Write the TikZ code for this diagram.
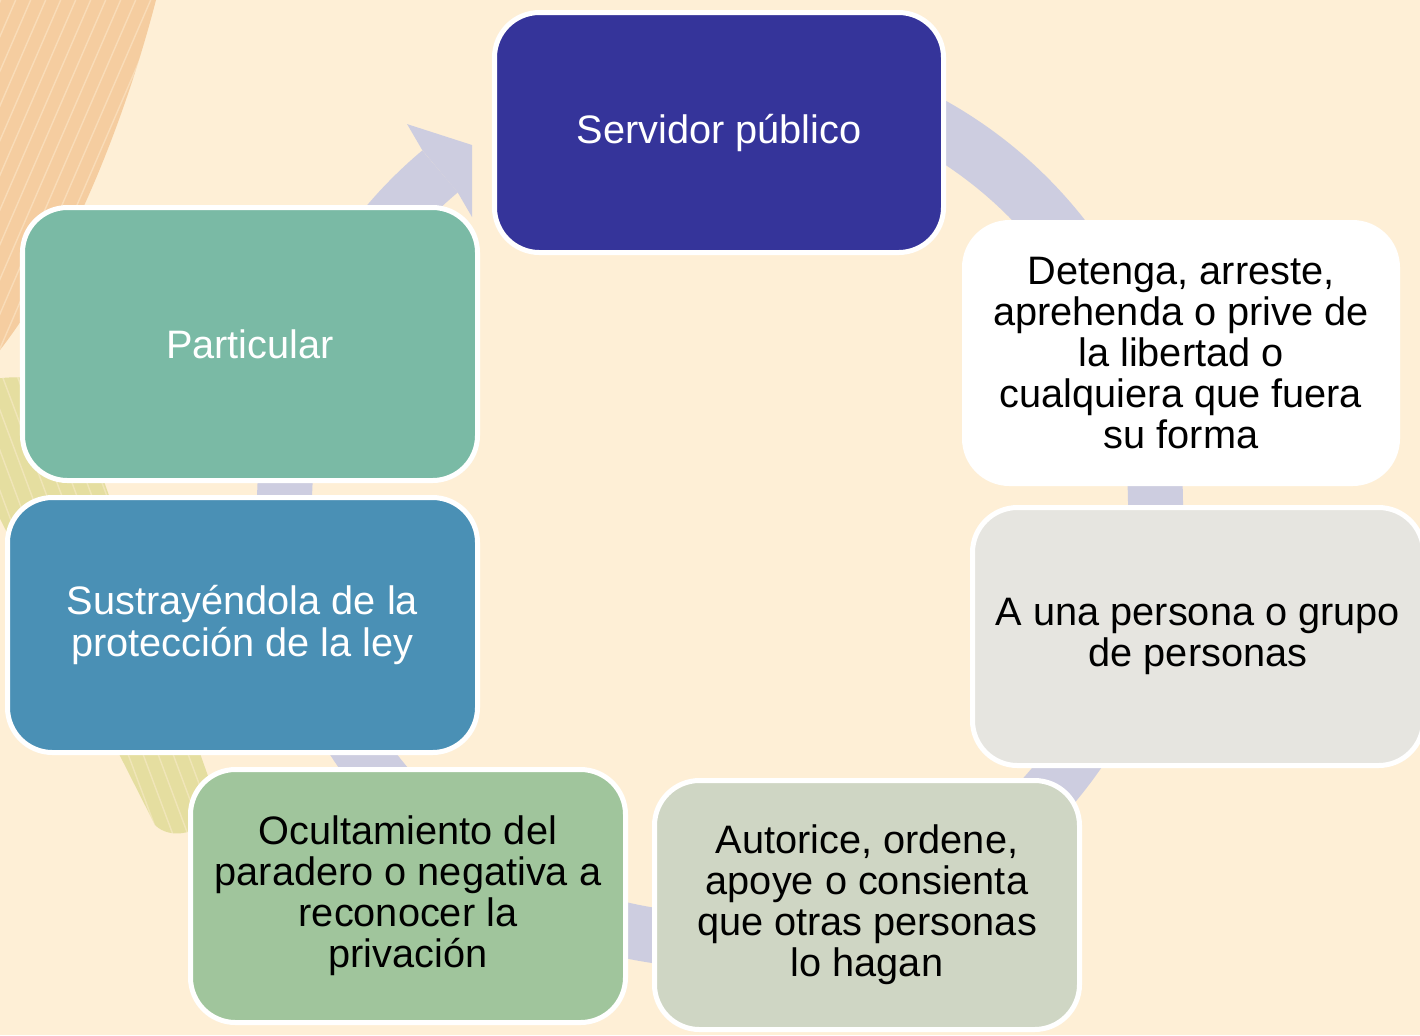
\documentclass[tikz,border=0pt]{standalone}
\usepackage{fontspec}
\setmainfont{Liberation Sans}
\usetikzlibrary{calc}

\definecolor{bgcream}{HTML}{FEEFD6}
\definecolor{ringlav}{HTML}{CDCDE0}
\definecolor{brushorange}{HTML}{F5CDA0}
\definecolor{brushyellow}{HTML}{E5DEA0}
\definecolor{servblue}{HTML}{35349A}
\definecolor{partgreen}{HTML}{7ABAA5}
\definecolor{susblue}{HTML}{4A90B5}
\definecolor{ocugreen}{HTML}{A0C59C}
\definecolor{autgreen}{HTML}{CFD6C4}
\definecolor{unagray}{HTML}{E6E5E0}

\begin{document}
\begin{tikzpicture}[
                cyclebox/.style={rectangle, rounded corners=0.45cm, draw=white, line width=0.05cm, align=center, inner sep=2pt, font=\fontsize{11.3}{11.7}\selectfont},
                darkbox/.style={cyclebox, text=white},
                ring/.style={draw=ringlav, line width=0.55cm},
                streak/.style={draw=bgcream, opacity=0.45, line width=0.4pt}
                ]
                \useasboundingbox (0,0) rectangle (14.2,-10.35);
                \fill[bgcream] (0,0) rectangle (14.2,-10.35);
                % brush strokes
                \begin{scope}
                    \clip (0,0) -- (1.56,0) .. controls (1.25,-1.2) and (0.7,-2.6) .. (0,-3.5) -- cycle;
                    \fill[brushorange] (0,0) rectangle (1.6,-3.6);
                    \foreach \s in {0.05,0.2,...,2.0}
                        \draw[streak] (\s,0.1) -- ++(-1.6,-3.7);
                \end{scope}
                \begin{scope}
                    \clip (-0.6,-4.0) .. controls (-0.2,-3.7) and (0.4,-3.75) .. (0.7,-3.85) -- (2.2,-8.1) .. controls (2.0,-8.35) and (1.7,-8.4) .. (1.55,-8.25) -- cycle;
                    \fill[brushyellow] (-0.6,-3.6) rectangle (2.3,-8.5);
                    \foreach \s in {-0.6,-0.45,...,0.9}
                        \draw[streak] (\s,-3.7) -- ++(1.75,-4.7);
                \end{scope}
                % cycle ring
                \coordinate (hub) at (7.2,-5.05);
                \draw[ring] ($(hub)+(130:4.355)$) arc[start angle=130, end angle=478, radius=4.355];
                \fill[ringlav] ($(hub)+(130:4.63)$) -- ($(hub)+(129.4:4.93)$) -- (4.72,-1.45) -- (4.72,-2.17) -- ($(hub)+(130:4.08)$) -- cycle;
                % boxes
                \node[darkbox, fill=servblue, minimum width=4.49cm, minimum height=2.40cm] (servidor) at (7.19,-1.325) {Servidor público};
                \node[cyclebox, fill=white, minimum width=4.33cm, minimum height=2.61cm] (detenga) at (11.81,-3.53) {Detenga, arreste,\\aprehenda o prive de\\la libertad o\\cualquiera que fuera\\su forma};
                \node[cyclebox, fill=unagray, minimum width=4.51cm, minimum height=2.58cm] (persona) at (11.98,-6.365) {A una persona o grupo\\de personas};
                \node[cyclebox, fill=autgreen, minimum width=4.25cm, minimum height=2.49cm] (autorice) at (8.67,-9.05) {Autorice, ordene,\\apoye o consienta\\que otras personas\\lo hagan};
                \node[cyclebox, fill=ocugreen, minimum width=4.35cm, minimum height=2.53cm] (ocultamiento) at (4.08,-8.96) {Ocultamiento del\\paradero o negativa a\\reconocer la\\privación};
                \node[darkbox, fill=susblue, minimum width=4.70cm, minimum height=2.55cm] (sustrae) at (2.425,-6.25) {Sustrayéndola de la\\protección de la ley};
                \node[darkbox, fill=partgreen, minimum width=4.55cm, minimum height=2.73cm] (particular) at (2.50,-3.44) {Particular};
            \end{tikzpicture}
\end{document}
